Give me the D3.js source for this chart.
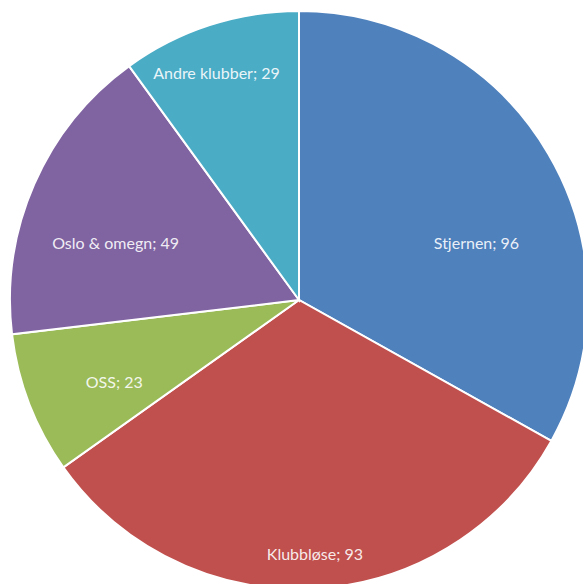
<!DOCTYPE html>
<html>
<head>
<meta charset="utf-8">
<script src="https://cdn.jsdelivr.net/npm/d3@7"></script>
<style>
  html, body { margin: 0; padding: 0; background: #fff; overflow: hidden; }
  svg { display: block; }
</style>
</head>
<body>
<div id="chart"></div>
<script>
const categories = ["Stjernen", "Klubbløse", "OSS", "Oslo & omegn", "Andre klubber"];
const values = [96, 93, 23, 49, 29];
const colors = ["#4F81BD", "#C0504D", "#9BBB59", "#8064A2", "#4BACC6"];

const width = 583;
const height = 584;
const cx = 299;
const cy = 300;
const radius = 289;

// label nudges (excel "best fit" doesn't sit on the centroid)
const labelNudge = [[3, 45], [5, 51], [4, 9], [2, 23], [-20, -35]];

const data = categories.map((c, i) => ({ name: c, value: values[i], color: colors[i], i }));

const pie = d3.pie().value((d) => d.value).sort(null);
const arcs = pie(data);

const arc = d3.arc().innerRadius(0).outerRadius(radius);
const labelArc = d3.arc().innerRadius(radius * 0.7).outerRadius(radius * 0.7);

const svg = d3
  .select("#chart")
  .append("svg")
  .attr("width", width)
  .attr("height", height);

const g = svg.append("g").attr("transform", `translate(${cx},${cy})`);

g.selectAll("path")
  .data(arcs)
  .join("path")
  .attr("d", arc)
  .attr("fill", (d) => d.data.color)
  .attr("stroke", "#fff")
  .attr("stroke-width", 2);

g.selectAll("text")
  .data(arcs)
  .join("text")
  .attr("transform", (d) => {
    const [x, y] = labelArc.centroid(d);
    const [nx, ny] = labelNudge[d.data.i];
    return `translate(${x + nx},${y + ny})`;
  })
  .attr("text-anchor", "middle")
  .attr("dominant-baseline", "central")
  .attr("font-family", "Lato, 'Open Sans', sans-serif")
  .attr("font-size", 16)
  .attr("fill", "#fff")
  .attr("fill-opacity", 0.9)
  .text((d) => `${d.data.name}; ${d.data.value}`);
</script>
</body>
</html>
